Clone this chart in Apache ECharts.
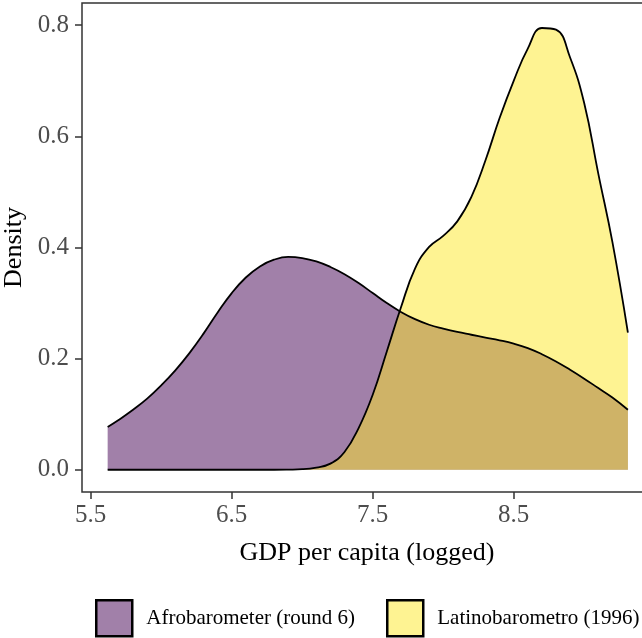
<!DOCTYPE html>
<html>
<head>
<meta charset="utf-8">
<script src="https://cdn.jsdelivr.net/npm/echarts@6/dist/echarts.min.js"></script>
<style>html,body{margin:0;padding:0;background:#fff;}#c{width:642px;height:638px;}</style>
</head>
<body>
<div id="c"></div>
<script>
const xs = [5.62,5.7,5.8,5.9,6.0,6.1,6.2,6.3,6.4,6.5,6.6,6.7,6.8,6.9,7.0,7.1,7.2,7.3,7.4,7.5,7.6,7.7,7.8,7.9,8.0,8.1,8.2,8.3,8.4,8.5,8.6,8.7,8.8,8.9,9.0,9.1,9.2,9.31];
const afro = [0.077,0.090,0.108,0.128,0.152,0.179,0.210,0.245,0.283,0.318,0.346,0.366,0.378,0.383,0.381,0.375,0.365,0.352,0.336,0.318,0.300,0.284,0.271,0.261,0.254,0.248,0.243,0.238,0.233,0.227,0.219,0.208,0.195,0.180,0.164,0.147,0.130,0.108];
const latino = [0,0,0,0,0,0,0,0,0,0,0,0,0,0.0003,0.001,0.004,0.011,0.032,0.075,0.135,0.213,0.292,0.362,0.401,0.421,0.447,0.491,0.557,0.633,0.700,0.758,0.795,0.792,0.742,0.660,0.533,0.410,0.247];
const xTicks = [5.5,6.5,7.5,8.5];
const yTicks = [0,0.2,0.4,0.6,0.8];
const seriesNames = ['Afrobarometer (round 6)','Latinobarometro (1996)'];
const fills = ['rgba(68,1,84,0.5)','rgba(253,231,37,0.5)'];

const serif = 'Liberation Serif, Times New Roman, serif';
const chart = echarts.init(document.getElementById('c'));
const mk = (name, ys, fill) => ({
  name: name, type: 'line', smooth: 0.45, symbol: 'none',
  data: xs.map((x,i)=>[x, ys[i]]),
  lineStyle: {color:'#000', width:1.8},
  itemStyle: {color: fill},
  areaStyle: {color: fill, opacity: 1},
  emphasis: {disabled: true}
});
chart.setOption({
  animation: false,
  grid: {left:82, top:3, right:-10, bottom:146, outerBoundsMode:'none', containLabel:false, show:true, borderColor:'#333333', borderWidth:1.5, backgroundColor:'transparent'},
  xAxis: {
    type:'value', min:5.438, max:9.481,
    name:'GDP per capita (logged)', nameLocation:'middle', nameGap:48,
    nameTextStyle:{fontFamily:serif, fontSize:26, color:'#000'},
    axisLine:{show:false, onZero:false}, splitLine:{show:false},
    axisTick:{show:true, length:7, lineStyle:{color:'#333333', width:1.5}, customValues: xTicks},
    axisLabel:{fontFamily:serif, fontSize:25, color:'#4D4D4D', margin:11, customValues: xTicks, formatter:v=>v.toFixed(1)}
  },
  yAxis: {
    type:'value', min:-0.04, max:0.84,
    name:'Density', nameLocation:'middle', nameGap:47, nameRotate:90,
    nameTextStyle:{fontFamily:serif, fontSize:26, color:'#000'},
    axisLine:{show:false, onZero:false}, splitLine:{show:false},
    axisTick:{show:true, length:7, lineStyle:{color:'#333333', width:1.5}, customValues: yTicks},
    axisLabel:{fontFamily:serif, fontSize:25, color:'#4D4D4D', margin:13, customValues: yTicks, formatter:v=>v.toFixed(1)}
  },
  legend: {
    left:95, top:599, padding:0, width:900, orient:'horizontal', itemGap:31,
    itemWidth:36, itemHeight:36, selectedMode:false,
    textStyle:{fontFamily:serif, fontSize:21, color:'#000', padding:[0,0,0,9]},
    data: seriesNames.map((n,i)=>({name:n, icon:'rect', itemStyle:{color:fills[i], borderColor:'#000', borderWidth:2.5}}))
  },
  series: [mk(seriesNames[0], afro, fills[0]), mk(seriesNames[1], latino, fills[1])]
});
</script>
</body>
</html>
